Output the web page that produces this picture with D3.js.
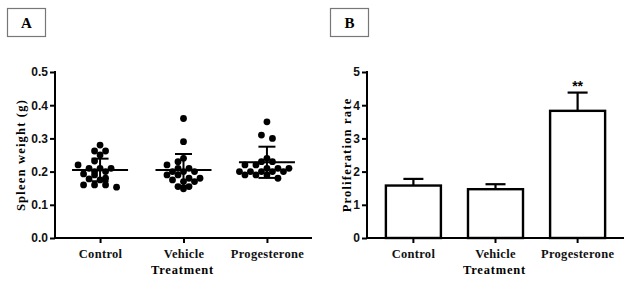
<!DOCTYPE html>
<html>
<head>
<meta charset="utf-8">
<script src="https://cdn.jsdelivr.net/npm/d3@7"></script>
<style>
  body { margin: 0; background: #fff; }
  svg { display: block; }
  .tick-num { font-family: "Liberation Sans", Arial, sans-serif; font-weight: bold; font-size: 12px; }
  .serif { font-family: "Liberation Serif", "Times New Roman", serif; font-weight: bold; }
</style>
</head>
<body>
<svg id="chart" width="628" height="281"></svg>
<script>
// categories + data
const groups = ["Control", "Vehicle", "Progesterone"];

const controlWeights = [0.28, 0.262, 0.262, 0.25, 0.232, 0.22, 0.21, 0.21, 0.21, 0.2,
  0.2, 0.193, 0.19, 0.18, 0.178, 0.175, 0.16, 0.16, 0.16, 0.153];
const vehicleWeights = [0.36, 0.29, 0.24, 0.23, 0.22, 0.21, 0.21, 0.2, 0.2, 0.2,
  0.19, 0.19, 0.18, 0.18, 0.175, 0.17, 0.17, 0.155, 0.155, 0.148];
const progWeights = [0.35, 0.31, 0.30, 0.24, 0.23, 0.23, 0.22, 0.22, 0.21, 0.21,
  0.21, 0.2, 0.2, 0.2, 0.2, 0.2, 0.19, 0.19, 0.19, 0.18];
const weightMeans = [0.205, 0.205, 0.228];
const weightSD = [0.034, 0.048, 0.047];

const prolifMeans = [1.58, 1.47, 3.83];
const prolifErr = [0.2, 0.15, 0.55];
const prolifSig = ["", "", "**"];

const weightTicks = ["0.0", "0.1", "0.2", "0.3", "0.4", "0.5"];
const prolifTicks = [0, 1, 2, 3, 4, 5];

const svg = d3.select('#chart');

const plotTop = 72, plotBottom = 238;

// panel letter boxes
function letterBox(x, label) {
  svg.append('rect')
    .attr('x', x).attr('y', 8.5).attr('width', 38).attr('height', 28)
    .attr('fill', 'none').attr('stroke', '#777').attr('stroke-width', 1.2);
  svg.append('text')
    .attr('class', 'serif')
    .attr('x', x + 19).attr('y', 28)
    .attr('text-anchor', 'middle')
    .style('font-size', '15px')
    .text(label);
}
letterBox(7.5, "A");
letterBox(330.5, "B");

function drawAxes(g, xScale, yScale, x0, x1, tickVals, fmt, yTitle, titleX) {
  const yAxis = d3.axisLeft(yScale).tickValues(tickVals).tickFormat(fmt)
    .tickSize(5).tickSizeOuter(0).tickPadding(2);
  const ya = g.append('g').attr('transform', `translate(${x0},0)`).call(yAxis);
  ya.select('.domain').attr('stroke-width', 2).attr('d', `M0,${plotTop - 1}V${plotBottom + 1}`);
  ya.selectAll('.tick line').attr('stroke-width', 2);
  ya.selectAll('.tick text').attr('class', 'tick-num').attr('fill', '#111');

  const xAxis = d3.axisBottom(xScale).tickSize(5).tickSizeOuter(0).tickPadding(4);
  const xa = g.append('g').attr('transform', `translate(0,${plotBottom})`).call(xAxis);
  xa.select('.domain').attr('stroke-width', 2).attr('d', `M${x0 - 1},0H${x1}`);
  xa.selectAll('.tick line').attr('stroke-width', 2);
  xa.selectAll('.tick text').attr('class', 'serif').attr('fill', '#111')
    .attr('dy', '0.9em').style('font-size', '12.5px').style('letter-spacing', '0.3px');

  g.append('text').attr('class', 'serif')
    .attr('x', (x0 + x1) / 2 - 1).attr('y', 274)
    .attr('text-anchor', 'middle')
    .style('font-size', '12.5px').style('letter-spacing', '0.8px')
    .text('Treatment');

  g.append('text').attr('class', 'serif')
    .attr('transform', `translate(${titleX},155) rotate(-90)`)
    .attr('text-anchor', 'middle')
    .style('font-size', '12.5px').style('letter-spacing', '1.2px')
    .text(yTitle);
}

// ---------- Panel A: scatter with mean ± SD ----------
const gA = svg.append('g');
const xA = d3.scalePoint().domain(groups).range([55, 312]).padding(0.54);
const yA = d3.scaleLinear().domain([0, 0.5]).range([plotBottom, plotTop]);
drawAxes(gA, xA, yA, 55, 312, weightTicks.map(Number), d3.format('.1f'), 'Spleen weight (g)', 25);

const allWeights = [controlWeights, vehicleWeights, progWeights];
const r = 3.4, step = 11, binSize = 0.015;

allWeights.forEach((vals, gi) => {
  const cx = xA(groups[gi]);
  // prism-style: bin values into rows, spread each row sideways,
  // nudging a row half a step if that overlaps less with rows already placed
  const rows = d3.groups(vals, v => Math.floor(v / binSize + 1e-9))
    .sort((a, b) => b[0] - a[0]);
  const placed = [];
  rows.forEach(([, rowVals]) => {
    const n = rowVals.length;
    let best = null, bestScore = Infinity;
    [0, -step / 2, step / 2].forEach(shift => {
      const cand = rowVals.map((v, i) => ({x: (i - (n - 1) / 2) * step + shift, y: yA(v)}));
      let score = 0;
      cand.forEach(c => placed.forEach(p => {
        score += Math.max(0, 2 * r + 1 - Math.hypot(c.x - p.x, c.y - p.y));
      }));
      score += Math.abs(shift) * 0.01;
      if (score < bestScore) { bestScore = score; best = cand; }
    });
    placed.push(...best);
  });
  gA.selectAll(null).data(placed).enter().append('circle')
    .attr('cx', d => cx + d.x).attr('cy', d => d.y).attr('r', r)
    .attr('fill', '#000');

  const m = weightMeans[gi], sd = weightSD[gi];
  gA.append('line').attr('x1', cx - 28).attr('x2', cx + 28)
    .attr('y1', yA(m)).attr('y2', yA(m)).attr('stroke', '#000').attr('stroke-width', 2);
  gA.append('line').attr('x1', cx).attr('x2', cx)
    .attr('y1', yA(m - sd)).attr('y2', yA(m + sd)).attr('stroke', '#000').attr('stroke-width', 2);
  [m + sd, m - sd].forEach(v => {
    gA.append('line').attr('x1', cx - 8.5).attr('x2', cx + 8.5)
      .attr('y1', yA(v)).attr('y2', yA(v)).attr('stroke', '#000').attr('stroke-width', 2);
  });
});

// ---------- Panel B: bars with error ----------
const gB = svg.append('g');
const xB = d3.scaleBand().domain(groups).range([367, 624]).paddingInner(0.33).paddingOuter(0.23);
const yB = d3.scaleLinear().domain([0, 5]).range([plotBottom, plotTop]);

const barData = groups.map((g, i) => ({g, mean: prolifMeans[i], err: prolifErr[i], sig: prolifSig[i]}));

gB.selectAll('.err').data(barData).enter().append('line')
  .attr('x1', d => xB(d.g) + xB.bandwidth() / 2).attr('x2', d => xB(d.g) + xB.bandwidth() / 2)
  .attr('y1', d => yB(d.mean)).attr('y2', d => yB(d.mean + d.err))
  .attr('stroke', '#000').attr('stroke-width', 2.2);
gB.selectAll('.cap').data(barData).enter().append('line')
  .attr('x1', d => xB(d.g) + xB.bandwidth() / 2 - 10).attr('x2', d => xB(d.g) + xB.bandwidth() / 2 + 10)
  .attr('y1', d => yB(d.mean + d.err)).attr('y2', d => yB(d.mean + d.err))
  .attr('stroke', '#000').attr('stroke-width', 2.2);

gB.selectAll('.bar').data(barData).enter().append('rect')
  .attr('x', d => xB(d.g)).attr('y', d => yB(d.mean))
  .attr('width', xB.bandwidth()).attr('height', d => plotBottom - yB(d.mean))
  .attr('fill', '#fff').attr('stroke', '#000').attr('stroke-width', 2.4);

drawAxes(gB, xB, yB, 367, 624, prolifTicks, d3.format('d'), 'Proliferation rate', 351);

gB.selectAll('.sig').data(barData).enter().append('text')
  .attr('x', d => xB(d.g) + xB.bandwidth() / 2).attr('y', d => yB(d.mean + d.err) - 2)
  .attr('text-anchor', 'middle')
  .attr('class', 'tick-num')
  .style('font-size', '14px')
  .text(d => d.sig);
</script>
</body>
</html>
